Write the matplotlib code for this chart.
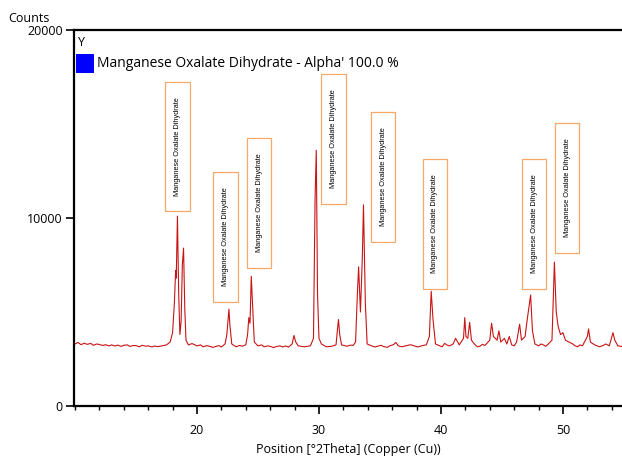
import matplotlib
matplotlib.use("Agg")
import matplotlib.pyplot as plt
from matplotlib.patches import Rectangle
from matplotlib.ticker import MultipleLocator

# diffractogram (2theta in degrees, counts)
two_theta = [
    10.0, 10.25, 10.5, 10.75, 11.0, 11.3, 11.5, 11.8, 12.0, 12.3, 12.5, 12.8,
    13.0, 13.3, 13.5, 13.8, 14.0, 14.3, 14.5, 14.8, 15.0, 15.3, 15.5, 15.8,
    16.0, 16.3, 16.5, 16.8, 17.0, 17.5, 17.8, 18.0, 18.15, 18.25, 18.3, 18.4,
    18.5, 18.6, 18.7, 18.8, 18.9, 19.0, 19.1, 19.3, 19.6, 20.0, 20.3, 20.5,
    20.8, 21.0, 21.3, 21.5, 21.8, 22.0, 22.3, 22.45, 22.55, 22.62, 22.7,
    22.85, 23.2, 23.5, 23.7, 24.0, 24.15, 24.25, 24.35, 24.45, 24.55, 24.7,
    25.0, 25.3, 25.5, 25.8, 26.0, 26.3, 26.5, 26.8, 27.0, 27.3, 27.5, 27.8,
    27.95, 28.1, 28.3, 28.8, 29.3, 29.55, 29.68, 29.78, 29.88, 30.0, 30.2,
    30.6, 31.0, 31.4, 31.52, 31.6, 31.7, 31.85, 32.3, 32.6, 32.8, 33.0,
    33.15, 33.25, 33.4, 33.55, 33.65, 33.8, 33.95, 34.3, 34.6, 34.8, 35.1,
    35.3, 35.6, 35.8, 36.1, 36.3, 36.5, 36.8, 37.0, 37.3, 37.5, 37.8, 38.1,
    38.3, 38.6, 38.8, 39.05, 39.2, 39.35, 39.55, 39.9, 40.1, 40.3, 40.5,
    40.7, 41.0, 41.2, 41.5, 41.85, 41.95, 42.05, 42.2, 42.35, 42.5, 42.8,
    43.0, 43.2, 43.4, 43.6, 44.0, 44.15, 44.3, 44.6, 44.75, 44.9, 45.2,
    45.4, 45.6, 45.8, 46.0, 46.2, 46.45, 46.6, 46.9, 47.05, 47.2, 47.35,
    47.5, 47.7, 48.0, 48.2, 48.4, 48.6, 48.8, 49.1, 49.3, 49.45, 49.6,
    49.8, 50.0, 50.2, 50.5, 50.8, 51.0, 51.2, 51.4, 51.6, 52.0, 52.1,
    52.25, 52.6, 52.8, 53.0, 53.3, 53.5, 53.8, 54.1, 54.25, 54.5, 55.0,
]
counts = [
    3300, 3380, 3260, 3340, 3280, 3330, 3230, 3300, 3270, 3220, 3260, 3200,
    3250, 3190, 3240, 3170, 3230, 3250, 3170, 3220, 3210, 3150, 3230, 3180,
    3200, 3140, 3190, 3160, 3180, 3250, 3400, 3900, 5500, 7200, 6800, 10100,
    6000, 3800, 4500, 7500, 8400, 5200, 3500, 3250, 3320, 3200, 3250, 3150,
    3210, 3180, 3120, 3160, 3210, 3140, 3300, 3800, 4600, 5150, 4300,
    3300, 3150, 3220, 3180, 3250, 3800, 4700, 4400, 6900, 5500, 3400,
    3200, 3250, 3150, 3200, 3170, 3110, 3160, 3200, 3140, 3190, 3130, 3300,
    3750, 3400, 3200, 3150, 3200, 3600, 11000, 13600, 6000, 3600, 3300,
    3150, 3170, 3250, 4100, 4600, 3800, 3250, 3180, 3240, 3220, 3400,
    6000, 7400, 5000, 7800, 10700, 5500, 3300, 3200, 3140, 3180, 3230,
    3160, 3120, 3200, 3260, 3380, 3200, 3150, 3180, 3230, 3260, 3200, 3140,
    3180, 3230, 3250, 3700, 6100, 4600, 3300, 3200, 3150, 3330, 3240,
    3200, 3300, 3600, 3250, 3600, 4700, 3700, 3600, 4450, 3500, 3250,
    3150, 3180, 3280, 3220, 3500, 4400, 3700, 3500, 4000, 3400, 3600,
    3300, 3700, 3250, 3200, 3400, 4350, 3500, 3700, 4500, 5200, 5900,
    4000, 3300, 3200, 3300, 3250, 3180, 3300, 3500, 7650, 5000, 4250,
    3800, 3900, 3500, 3400, 3300, 3200, 3150, 3250, 3200, 3700, 4100,
    3400, 3250, 3200, 3150, 3220, 3300, 3200, 3900, 3500, 3200, 3150,
]

# peak labels: box centre (2theta) and box centre height (counts)
label_text = "Manganese Oxalate Dihydrate"
label_pos = [18.4, 22.35, 25.1, 31.2, 35.25, 39.5, 47.65, 50.35]
label_mid = [13800, 9000, 10800, 14200, 12200, 9700, 9700, 11600]

legend_text = "Manganese Oxalate Dihydrate - Alpha' 100.0 %"

plt.rcParams["font.family"] = ["Open Sans", "DejaVu Sans"]

fig = plt.figure(figsize=(6.22, 4.57), dpi=100)
ax = fig.add_axes([74 / 622, 51 / 457, 548 / 622, 376 / 457])

ax.plot(two_theta, counts, color="#c81414", lw=0.8)

for xc, yc in zip(label_pos, label_mid):
    ax.add_patch(Rectangle((xc - 1.0, yc - 3450), 2.0, 6900, facecolor="white",
                           edgecolor="#f5a86a", lw=0.9, zorder=3))
    ax.text(xc, yc, label_text, rotation=90, ha="center", va="center",
            fontsize=5.3, family=["Liberation Sans", "DejaVu Sans"], zorder=4)

ax.set_xlim(9.92, 54.84)
ax.set_ylim(0, 20000)
ax.set_xticks([20, 30, 40, 50])
ax.set_yticks([0, 10000, 20000])
ax.xaxis.set_minor_locator(MultipleLocator(2))
ax.tick_params(axis="both", which="major", direction="out", length=6,
               width=1.2, labelsize=9, pad=2)
ax.tick_params(axis="x", which="major", pad=7)
ax.tick_params(axis="x", which="minor", direction="out", length=3, width=1.0)
ax.spines["right"].set_visible(False)
for s in ("left", "bottom", "top"):
    ax.spines[s].set_linewidth(1.6)

ax.set_xlabel("Position [°2Theta] (Copper (Cu))", fontsize=9, labelpad=4)
fig.text(8 / 622, 1 - 18 / 457, "Counts", fontsize=9, va="center", ha="left")

# legend-like header
ax.text(0.008, 0.967, "Y", transform=ax.transAxes, fontsize=9, va="center")
ax.add_patch(Rectangle((0.004, 0.885), 0.032, 0.052, transform=ax.transAxes,
                       facecolor="#0000ff", edgecolor="none"))
ax.text(0.042, 0.911, legend_text, transform=ax.transAxes, fontsize=10,
        va="center")

fig.savefig("out.png", dpi=100)
